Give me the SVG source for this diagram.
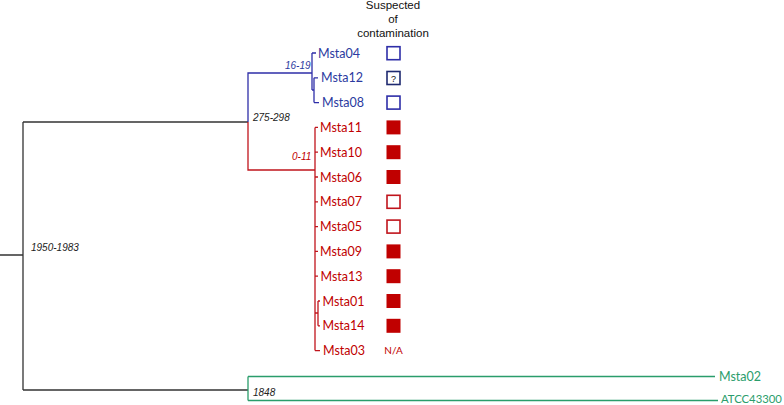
<svg xmlns="http://www.w3.org/2000/svg" width="784" height="405" viewBox="0 0 784 405">
<style>
.t{font-family:Lato,"Liberation Sans",Arial,sans-serif;font-size:12.5px}
.h{font-family:"Liberation Sans",Arial,sans-serif;font-size:11.5px;fill:#111;text-anchor:middle}
.d{font-family:"Liberation Sans",Arial,sans-serif;font-size:10px;font-style:italic}
.k{stroke:#333;stroke-width:1.3;fill:none}
.b{stroke:#2e2ea8;stroke-width:1.3;fill:none}
.r{stroke:#c0141c;stroke-width:1.3;fill:none}
.g{stroke:#2a9d6b;stroke-width:1.3;fill:none}
.bt{fill:#2b3aa0}
.rt{fill:#c00000}
.gt{fill:#2a9d6b}
.bo{fill:#fff;stroke:#2e2ea8;stroke-width:1.6}
.ro{fill:#fff;stroke:#c0141c;stroke-width:1.6}
.rf{fill:#c00000}
</style>
<rect width="784" height="405" fill="#fff"/>
<g id="header">
<text class="h" x="393" y="9">Suspected</text>
<text class="h" x="393" y="23">of</text>
<text class="h" x="393" y="37">contamination</text>
</g>
<g id="connectors">
<path class="k" d="M0 255H23M23 122V390M23 122H248M23 390H248"/>
<path class="b" d="M248 122V73H312M312 53V90M312 53H316M312 90H314M314 77.8V102.6M314 77.8H318M314 102.6H319"/>
<path class="r" d="M248 122V170H315M315 127.4V350.6M315 127.4H318M315 152.2H318M315 177H318M315 201.8H318M315 226.6H318M315 251.4H318M315 276.2H318M315 313H318M318 301V325.8M318 301H320M318 325.8H320M315 350.6H320"/>
<path class="g" d="M248 376.5V400.5M248 376.5H715M248 400.5H718"/>
</g>
<g id="dates">
<text class="d" x="31" y="250.5" fill="#222">1950-1983</text>
<text class="d" x="253" y="120.5" fill="#222">275-298</text>
<text class="d" x="285" y="69" fill="#2b3aa0">16-19</text>
<text class="d" x="292" y="160" fill="#c00000">0-11</text>
<text class="d" x="253" y="395.5" fill="#222">1848</text>
</g>
<g id="Msta04"><text class="t bt" x="318" y="57.5">Msta04</text><rect class="bo" x="387" y="46.7" width="13" height="13"/></g>
<g id="Msta12"><text class="t bt" x="321" y="82.3">Msta12</text><rect class="bo" x="387" y="71.5" width="13" height="13" style="stroke:#1f2a70"/><text x="393.5" y="81.5" text-anchor="middle" style="font-family:'Liberation Sans',Arial,sans-serif;font-size:9px;fill:#111">?</text></g>
<g id="Msta08"><text class="t bt" x="322" y="107.1">Msta08</text><rect class="bo" x="387" y="96.1" width="13" height="13"/></g>
<g id="Msta11"><text class="t rt" x="320" y="131.9">Msta11</text><rect class="rf" x="386.5" y="120.4" width="14" height="14"/></g>
<g id="Msta10"><text class="t rt" x="320" y="156.7">Msta10</text><rect class="rf" x="386.5" y="145.2" width="14" height="14"/></g>
<g id="Msta06"><text class="t rt" x="320" y="181.5">Msta06</text><rect class="rf" x="386.5" y="170" width="14" height="14"/></g>
<g id="Msta07"><text class="t rt" x="320" y="206.3">Msta07</text><rect class="ro" x="387" y="195.3" width="13" height="13"/></g>
<g id="Msta05"><text class="t rt" x="320" y="231.1">Msta05</text><rect class="ro" x="387" y="220.1" width="13" height="13"/></g>
<g id="Msta09"><text class="t rt" x="320" y="255.9">Msta09</text><rect class="rf" x="386.5" y="244.4" width="14" height="14"/></g>
<g id="Msta13"><text class="t rt" x="320.5" y="280.7">Msta13</text><rect class="rf" x="386.5" y="269.2" width="14" height="14"/></g>
<g id="Msta01"><text class="t rt" x="322.5" y="305.5">Msta01</text><rect class="rf" x="386.5" y="294" width="14" height="14"/></g>
<g id="Msta14"><text class="t rt" x="322.5" y="330.3">Msta14</text><rect class="rf" x="386.5" y="318.8" width="14" height="14"/></g>
<g id="Msta03"><text class="t rt" x="323" y="355.1">Msta03</text><text x="393.5" y="354.3" text-anchor="middle" style="font-family:Lato,'Liberation Sans',Arial,sans-serif;font-size:10px;fill:#c00000">N/A</text></g>
<g id="Msta02"><text class="t gt" x="719" y="381">Msta02</text></g>
<g id="ATCC43300"><text class="t gt" x="721" y="402.5" style="font-size:11.3px">ATCC43300</text></g>
</svg>
